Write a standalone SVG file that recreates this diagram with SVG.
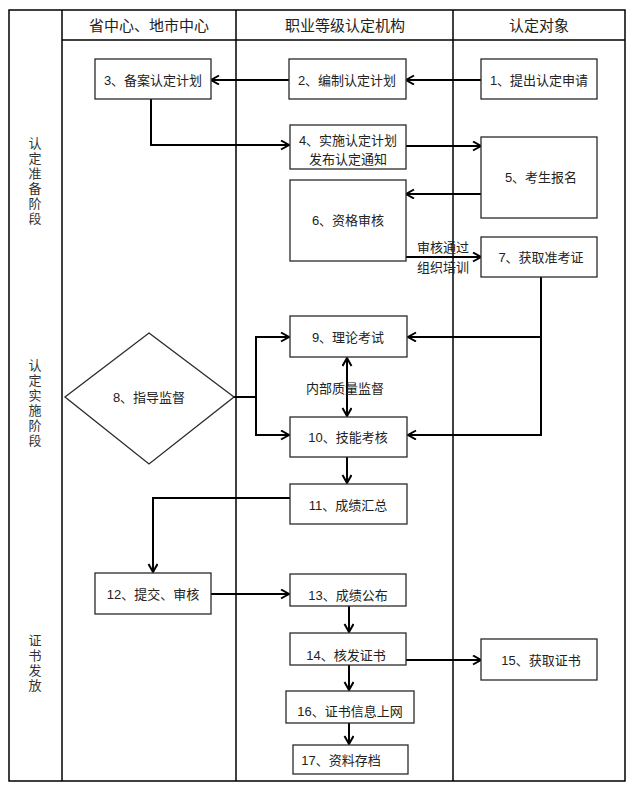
<svg xmlns="http://www.w3.org/2000/svg" width="632" height="788" viewBox="0 0 632 788">
<defs>
<marker id="arr" markerWidth="12" markerHeight="12" refX="9" refY="5" orient="auto-start-reverse" markerUnits="userSpaceOnUse">
<path d="M1,0.5 L9,5 L1,9.5" fill="none" stroke="#000" stroke-width="2"/>
</marker>
<style>
.grid{fill:none;stroke:#000;stroke-width:1.5}
.box{fill:#fff;stroke:#2a2a2a;stroke-width:1.3}
.t{font-family:"Liberation Sans","Noto Sans CJK SC",sans-serif;font-size:13px;fill:#222;text-anchor:middle;dominant-baseline:central}
.h{font-family:"Liberation Sans","Noto Sans CJK SC",sans-serif;font-size:15px;fill:#222;text-anchor:middle;dominant-baseline:central}
.v{font-family:"Noto Sans CJK SC",sans-serif;font-size:13px;fill:#333;writing-mode:vertical-rl;letter-spacing:2px}
.c{fill:none;stroke:#000;stroke-width:2}
</style>
</defs>
<rect width="632" height="788" fill="#fff"/>
<g id="table">
<rect class="grid" x="9" y="10" width="616" height="771"/>
<line class="grid" x1="62" y1="10" x2="62" y2="781"/>
<line class="grid" x1="236" y1="10" x2="236" y2="781"/>
<line class="grid" x1="453" y1="10" x2="453" y2="781"/>
<line class="grid" x1="62" y1="40" x2="625" y2="40"/>
<text class="h" x="149" y="25">省中心、地市中心</text>
<text class="h" x="345" y="25">职业等级认定机构</text>
<text class="h" x="539" y="25">认定对象</text>
<text class="v" x="35" y="137">认定准备阶段</text>
<text class="v" x="35" y="359">认定实施阶段</text>
<text class="v" x="35" y="634">证书发放</text>
</g>
<g id="connectors">
<line class="c" x1="481" y1="80" x2="406" y2="80" marker-end="url(#arr)"/>
<line class="c" x1="289" y1="80" x2="211" y2="80" marker-end="url(#arr)"/>
<polyline class="c" points="151,99 151,145 289,145" marker-end="url(#arr)"/>
<line class="c" x1="406" y1="146" x2="481" y2="146" marker-end="url(#arr)"/>
<line class="c" x1="481" y1="194" x2="406" y2="194" marker-end="url(#arr)"/>
<line class="c" x1="406" y1="257" x2="481" y2="257" marker-end="url(#arr)"/>
<polyline class="c" points="541,277 541,435 408,435" marker-end="url(#arr)"/>
<line class="c" x1="541" y1="337" x2="408" y2="337" marker-end="url(#arr)"/>
<line class="c" x1="224" y1="397" x2="256" y2="397"/>
<polyline class="c" points="289,337 256,337 256,435 289,435" marker-start="url(#arr)" marker-end="url(#arr)"/>
<line class="c" x1="347" y1="358" x2="347" y2="416" marker-start="url(#arr)" marker-end="url(#arr)"/>
<line class="c" x1="347" y1="457" x2="347" y2="483" marker-end="url(#arr)"/>
<polyline class="c" points="290,498 153,498 153,572" marker-end="url(#arr)"/>
<line class="c" x1="211" y1="594" x2="289" y2="594" marker-end="url(#arr)"/>
<line class="c" x1="349" y1="606" x2="349" y2="632" marker-end="url(#arr)"/>
<line class="c" x1="406" y1="660" x2="481" y2="660" marker-end="url(#arr)"/>
<line class="c" x1="349" y1="665" x2="349" y2="690" marker-end="url(#arr)"/>
<line class="c" x1="349" y1="723" x2="349" y2="744" marker-end="url(#arr)"/>
<text class="t" x="443" y="247">审核通过</text>
<text class="t" x="443" y="267">组织培训</text>
<text class="t" x="345" y="388">内部质量监督</text>
</g>
<g id="n1"><rect class="box" x="481" y="59" width="116" height="40"/><text class="t" x="539" y="80">1、提出认定申请</text></g>
<g id="n2"><rect class="box" x="289" y="59" width="117" height="40"/><text class="t" x="347" y="80">2、编制认定计划</text></g>
<g id="n3"><rect class="box" x="95" y="59" width="116" height="40"/><text class="t" x="153" y="80">3、备案认定计划</text></g>
<g id="n4"><rect class="box" x="290" y="125" width="116" height="44"/><text class="t" x="348" y="140">4、实施认定计划</text><text class="t" x="348" y="159">发布认定通知</text></g>
<g id="n5"><rect class="box" x="481" y="137" width="116" height="81"/><text class="t" x="541" y="177">5、考生报名</text></g>
<g id="n6"><rect class="box" x="290" y="180" width="116" height="81"/><text class="t" x="348" y="220">6、资格审核</text></g>
<g id="n7"><rect class="box" x="481" y="237" width="116" height="40"/><text class="t" x="541" y="257">7、获取准考证</text></g>
<g id="n8"><polygon class="box" points="149,333 234,397 149,464 65,397"/><text class="t" x="149" y="397">8、指导监督</text></g>
<g id="n9"><rect class="box" x="290" y="316" width="117" height="41"/><text class="t" x="348" y="337">9、理论考试</text></g>
<g id="n10"><rect class="box" x="290" y="417" width="117" height="40"/><text class="t" x="348" y="437">10、技能考核</text></g>
<g id="n11"><rect class="box" x="290" y="484" width="117" height="40"/><text class="t" x="348" y="505">11、成绩汇总</text></g>
<g id="n12"><rect class="box" x="95" y="573" width="116" height="41"/><text class="t" x="153" y="594">12、提交、审核</text></g>
<g id="n13"><rect class="box" x="290" y="574" width="116" height="32"/><text class="t" x="348" y="595">13、成绩公布</text></g>
<g id="n14"><rect class="box" x="290" y="633" width="116" height="32"/><text class="t" x="346" y="655">14、核发证书</text></g>
<g id="n15"><rect class="box" x="481" y="639" width="116" height="41"/><text class="t" x="541" y="660">15、获取证书</text></g>
<g id="n16"><rect class="box" x="286" y="691" width="128" height="32"/><text class="t" x="350" y="711">16、证书信息上网</text></g>
<g id="n17"><rect class="box" x="293" y="745" width="115" height="29"/><text class="t" x="341" y="760">17、资料存档</text></g>
</svg>
